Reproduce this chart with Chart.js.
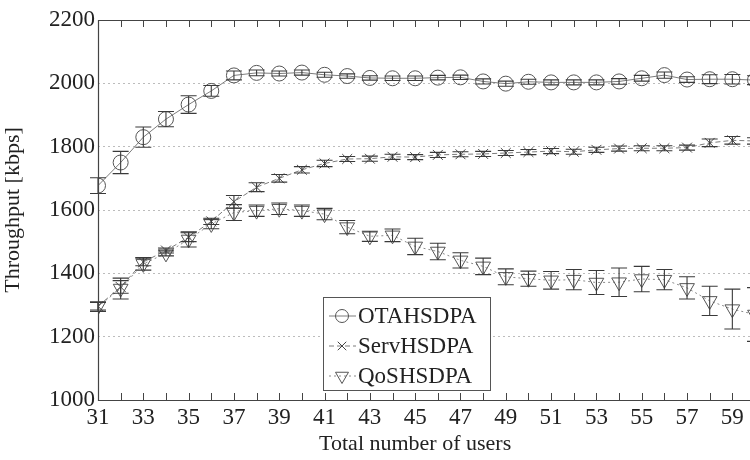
<!DOCTYPE html>
<html>
<head>
<meta charset="utf-8">
<script src="https://cdn.jsdelivr.net/npm/chart.js@4.4.0/dist/chart.umd.min.js"></script>
<style>
  html, body { margin: 0; padding: 0; background: #fff; }
  #wrap { width: 750px; height: 460px; overflow: hidden; }
</style>
</head>
<body>
<div id="wrap"><canvas id="tput" width="770" height="460"></canvas></div>
<script>
// total number of users in the cell
const users = [31, 32, 33, 34, 35, 36, 37, 38, 39, 40, 41, 42, 43, 44, 45,
               46, 47, 48, 49, 50, 51, 52, 53, 54, 55, 56, 57, 58, 59, 60];

// mean throughput [kbps] and half-width of the confidence interval
const ota    = [1677, 1750, 1830, 1887, 1933, 1976, 2025, 2033, 2031, 2034, 2027, 2023, 2017, 2016, 2016,
                2018, 2019, 2006, 1999, 2005, 2003, 2003, 2003, 2006, 2016, 2026, 2012, 2013, 2013, 2010];
const otaErr = [25, 35, 32, 24, 28, 17, 14, 9, 8, 8, 8, 7, 7, 7, 7,
                7, 7, 8, 8, 8, 8, 8, 8, 9, 9, 10, 9, 14, 15, 14];

const serv    = [1296, 1357, 1436, 1472, 1514, 1564, 1626, 1672, 1700, 1727, 1747, 1761, 1762, 1768, 1767,
                 1774, 1776, 1777, 1780, 1783, 1786, 1784, 1790, 1794, 1795, 1795, 1797, 1812, 1820, 1818];
const servErr = [12, 20, 12, 8, 14, 10, 20, 14, 12, 10, 10, 8, 8, 8, 8,
                 8, 8, 8, 8, 8, 8, 8, 8, 8, 8, 8, 8, 12, 12, 10];

const qos    = [1295, 1352, 1430, 1463, 1507, 1556, 1592, 1598, 1604, 1598, 1587, 1546, 1517, 1520, 1485,
                1469, 1441, 1422, 1389, 1383, 1378, 1380, 1371, 1372, 1382, 1380, 1354, 1313, 1287, 1270];
const qosErr = [15, 33, 20, 8, 24, 15, 25, 18, 18, 18, 18, 21, 16, 20, 26,
                26, 24, 26, 25, 24, 28, 32, 38, 45, 40, 32, 35, 46, 63, 85];

const errors = [otaErr, servErr, qosErr];
const serif = "'Liberation Serif', 'DejaVu Serif', serif";

const toPoints = vals => users.map((u, i) => ({ x: u, y: vals[i] }));

// error bars, frame with inward ticks, x title and the boxed legend
const decorations = {
    id: "decorations",
    afterDatasetsDraw(chart) {
        const { ctx, chartArea: a, scales: { x, y } } = chart;
        ctx.save();

        // error bars
        ctx.setLineDash([]);
        ctx.strokeStyle = "#3a3a3a";
        ctx.lineWidth = 1.1;
        chart.data.datasets.forEach((ds, di) => {
            ds.data.forEach((p, i) => {
                const px = x.getPixelForValue(p.x);
                const top = y.getPixelForValue(p.y + errors[di][i]);
                const bot = y.getPixelForValue(p.y - errors[di][i]);
                ctx.beginPath();
                ctx.moveTo(px, top); ctx.lineTo(px, bot);
                ctx.moveTo(px - 8, top); ctx.lineTo(px + 8, top);
                ctx.moveTo(px - 8, bot); ctx.lineTo(px + 8, bot);
                ctx.stroke();
            });
        });

        // frame
        ctx.strokeStyle = "#444";
        ctx.lineWidth = 1.2;
        ctx.beginPath();
        ctx.moveTo(a.right, Math.round(a.top) + 0.5);
        ctx.lineTo(Math.round(a.left) + 0.5, Math.round(a.top) + 0.5);
        ctx.lineTo(Math.round(a.left) + 0.5, Math.round(a.bottom) + 0.5);
        ctx.lineTo(a.right, Math.round(a.bottom) + 0.5);
        ctx.stroke();

        // inward ticks on top and bottom, one per user count
        ctx.lineWidth = 1;
        ctx.beginPath();
        users.forEach(u => {
            const px = Math.round(x.getPixelForValue(u)) + 0.5;
            ctx.moveTo(px, a.bottom); ctx.lineTo(px, a.bottom - 7);
            ctx.moveTo(px, a.top); ctx.lineTo(px, a.top + 7);
        });
        ctx.stroke();

        // x axis title
        ctx.fillStyle = "#222";
        ctx.font = "22px " + serif;
        ctx.textAlign = "center";
        ctx.textBaseline = "middle";
        ctx.fillText("Total number of users", x.getPixelForValue(45), 444);

        // legend box
        const bx = 323, by = 297, bw = 167, bh = 93;
        ctx.fillStyle = "#fff";
        ctx.fillRect(bx, by, bw, bh);
        ctx.strokeStyle = "#555";
        ctx.strokeRect(bx + 0.5, by + 0.5, bw, bh);
        ctx.font = "23px " + serif;
        ctx.textAlign = "left";
        chart.data.datasets.forEach((ds, i) => {
            const ly = 316 + i * 30;
            ctx.strokeStyle = ds.borderColor;
            ctx.lineWidth = 1;
            ctx.setLineDash(ds.borderDash || []);
            ctx.beginPath();
            ctx.moveTo(bx + 6, ly); ctx.lineTo(bx + 33, ly);
            ctx.stroke();
            ctx.setLineDash([]);
            ctx.strokeStyle = ds.pointBorderColor;
            ctx.fillStyle = "rgba(0,0,0,0)";
            Chart.helpers.drawPoint(ctx, {
                pointStyle: ds.pointStyle,
                rotation: ds.pointRotation || 0,
                radius: ds.pointRadius - 1,
                borderWidth: 1
            }, bx + 19, ly);
            ctx.fillStyle = "#222";
            ctx.fillText(ds.label, bx + 35, ly + 1);
        });

        ctx.restore();
    }
};

new Chart(document.getElementById("tput"), {
    type: "line",
    data: {
        datasets: [{
            label: "OTAHSDPA",
            data: toPoints(ota),
            borderColor: "#7c7c7c",
            borderWidth: 1,
            pointStyle: "circle",
            pointRadius: 7.5,
            pointBorderColor: "#555",
            pointBackgroundColor: "rgba(0,0,0,0)",
            pointBorderWidth: 1
        }, {
            label: "ServHSDPA",
            data: toPoints(serv),
            borderColor: "#7c7c7c",
            borderWidth: 1,
            borderDash: [5, 3],
            pointStyle: "crossRot",
            pointRadius: 7,
            pointBorderColor: "#444",
            pointBackgroundColor: "rgba(0,0,0,0)",
            pointBorderWidth: 1
        }, {
            label: "QoSHSDPA",
            data: toPoints(qos),
            borderColor: "#8a8a8a",
            borderWidth: 1,
            borderDash: [2, 3],
            pointStyle: "triangle",
            pointRotation: 180,
            pointRadius: 8.5,
            pointBorderColor: "#555",
            pointBackgroundColor: "rgba(0,0,0,0)",
            pointBorderWidth: 1
        }]
    },
    options: {
        responsive: false,
        animation: false,
        layout: { autoPadding: false, padding: { top: 20, right: 15, bottom: 0, left: 0 } },
        plugins: {
            legend: { display: false },
            tooltip: { enabled: false }
        },
        scales: {
            x: {
                type: "linear",
                min: 31,
                max: 60,
                afterFit: s => { s.height = 60; },
                grid: { display: false, drawTicks: false },
                border: { display: false },
                ticks: {
                    stepSize: 1,
                    autoSkip: false,
                    maxRotation: 0,
                    padding: 4,
                    color: "#222",
                    font: { family: serif, size: 23 },
                    callback: v => (v % 2 === 1 ? String(v) : "")
                }
            },
            y: {
                min: 1000,
                max: 2200,
                afterFit: s => { s.width = 98; },
                grid: { color: "#bcbcbc", lineWidth: 1, drawTicks: false },
                border: { display: false, dash: [2, 3] },
                ticks: {
                    stepSize: 200,
                    padding: 3,
                    color: "#222",
                    font: { family: serif, size: 23 },
                    callback: v => String(v)
                },
                title: {
                    display: true,
                    text: "Throughput [kbps]",
                    color: "#222",
                    font: { family: serif, size: 22 },
                    padding: 0
                }
            }
        }
    },
    plugins: [decorations]
});
</script>
</body>
</html>
